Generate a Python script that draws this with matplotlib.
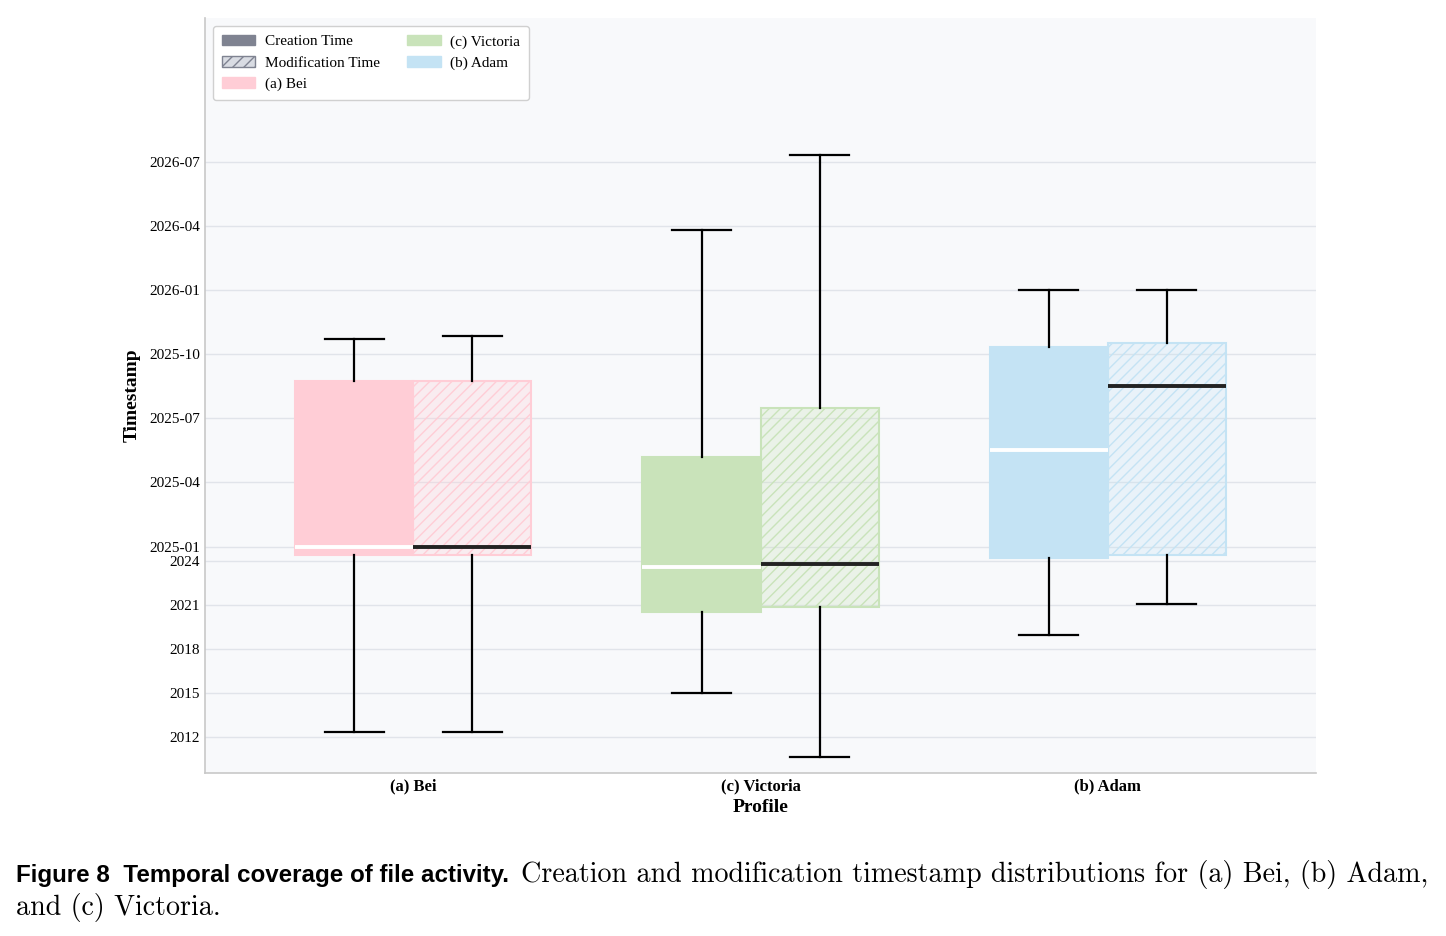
import numpy as np
import matplotlib
matplotlib.use("Agg")
import matplotlib.pyplot as plt
from matplotlib.patches import Patch

# ---- data (decimal years) ----
profiles = ["(a) Bei", "(c) Victoria", "(b) Adam"]
colors = ["#FFCDD6", "#C9E3BA", "#C4E3F4"]

# creation time: whisker low, q1, median, q3, whisker high
create_lo = [2012.34, 2015.00, 2018.95]
create_q1 = [2024.41, 2020.52, 2024.20]
create_med = [2025.00, 2023.59, 2025.377]
create_q3 = [2025.646, 2025.35, 2025.778]
create_hi = [2025.81, 2026.233, 2026.00]

# modification time
mod_lo = [2012.34, 2010.64, 2021.07]
mod_q1 = [2024.41, 2020.86, 2024.41]
mod_med = [2025.00, 2023.79, 2025.626]
mod_q3 = [2025.646, 2025.54, 2025.794]
mod_hi = [2025.82, 2026.525, 2026.00]

year_ticks = [2012, 2015, 2018, 2021, 2024]
month_ticks = [2025.0, 2025.25, 2025.5, 2025.75, 2026.0, 2026.25, 2026.5]
month_labels = ["2025-01", "2025-04", "2025-07", "2025-10", "2026-01", "2026-04", "2026-07"]

# ---- piecewise y scale: years compressed below 2025, stretched above ----
BREAK = 2025.0
K = 17.5

def fwd(y):
    y = np.asarray(y, dtype=float)
    return np.where(y <= BREAK, y, BREAK + (y - BREAK) * K)

def inv(y):
    y = np.asarray(y, dtype=float)
    return np.where(y <= BREAK, y, BREAK + (y - BREAK) / K)

plt.rcParams["font.family"] = ["Liberation Serif", "DejaVu Serif"]

fig = plt.figure(figsize=(14.46, 9.36), dpi=100)
ax = fig.add_axes([0.1418, 0.1741, 0.7683, 0.8067])
ax.set_facecolor("#F8F9FB")
ax.set_yscale("function", functions=(fwd, inv))

offset = 0.17
width = 0.34

for i, (name, col) in enumerate(zip(profiles, colors)):
    cstat = dict(med=create_med[i], q1=create_q1[i], q3=create_q3[i],
                 whislo=create_lo[i], whishi=create_hi[i], fliers=[])
    mstat = dict(med=mod_med[i], q1=mod_q1[i], q3=mod_q3[i],
                 whislo=mod_lo[i], whishi=mod_hi[i], fliers=[])
    rgb = matplotlib.colors.to_rgb(col)

    ax.bxp([cstat], positions=[i - offset], widths=width, patch_artist=True,
           showfliers=False,
           boxprops=dict(facecolor=col, edgecolor=col, linewidth=1.5),
           medianprops=dict(color="white", linewidth=2.8),
           whiskerprops=dict(color="black", linewidth=1.6),
           capprops=dict(color="black", linewidth=1.6))
    ax.bxp([mstat], positions=[i + offset], widths=width, patch_artist=True,
           showfliers=False,
           boxprops=dict(facecolor=(*rgb, 0.28), edgecolor=col, linewidth=1.5, hatch="///"),
           medianprops=dict(color="#222222", linewidth=2.8),
           whiskerprops=dict(color="black", linewidth=1.6),
           capprops=dict(color="black", linewidth=1.6))

ax.set_xlim(-0.6, 2.6)
ax.set_ylim(2009.55, 2027.06)
ax.set_xticks(range(len(profiles)))
ax.set_xticklabels(profiles, fontsize=12, fontweight="bold")
ax.set_yticks(year_ticks + month_ticks)
ax.set_yticklabels([str(y) for y in year_ticks] + month_labels, fontsize=11)
ax.tick_params(axis="x", length=0, pad=4)
ax.tick_params(axis="y", length=0, pad=3.5)
ax.grid(axis="y", color="#E1E4EA", linewidth=1.0)
ax.set_axisbelow(True)

for s in ["top", "right"]:
    ax.spines[s].set_visible(False)
for s in ["left", "bottom"]:
    ax.spines[s].set_color("#C8C8C8")
    ax.spines[s].set_linewidth(1.2)

ax.set_xlabel("Profile", fontsize=14, fontweight="bold", labelpad=3)
ax.set_ylabel("Timestamp", fontsize=14, fontweight="bold", labelpad=6)

handles = [
    Patch(facecolor="#7F8391", edgecolor="#7F8391", label="Creation Time"),
    Patch(facecolor="#D9DCE3", edgecolor="#7F8391", hatch="///", label="Modification Time"),
]
for name, col in zip(profiles, colors):
    handles.append(Patch(facecolor=col, edgecolor=col, label=name))
ax.legend(handles=handles, loc="upper left", ncol=2, fontsize=11, frameon=True,
          facecolor="white", edgecolor="#D0D0D0", framealpha=1.0,
          borderpad=0.6, columnspacing=1.8, handlelength=2.2, handletextpad=0.6)

# ---- caption ----
cap_y1 = 1 - 882 / 936
cap_y2 = 1 - 915 / 936
bold = fig.text(16 / 1446, cap_y1, "Figure 8  Temporal coverage of file activity.",
                fontsize=17.4, fontweight="bold", family=["Liberation Sans", "DejaVu Sans"],
                va="baseline", ha="left")
fig.canvas.draw()
bb = bold.get_window_extent()
fig.text((bb.x1 + 12) / 1446, cap_y1,
         "Creation and modification timestamp distributions for (a) Bei, (b) Adam,",
         fontsize=20.2, family=["cmr10", "DejaVu Serif"], va="baseline", ha="left")
fig.text(16 / 1446, cap_y2, "and (c) Victoria.",
         fontsize=20.2, family=["cmr10", "DejaVu Serif"], va="baseline", ha="left")

fig.savefig("out.png", dpi=100)
